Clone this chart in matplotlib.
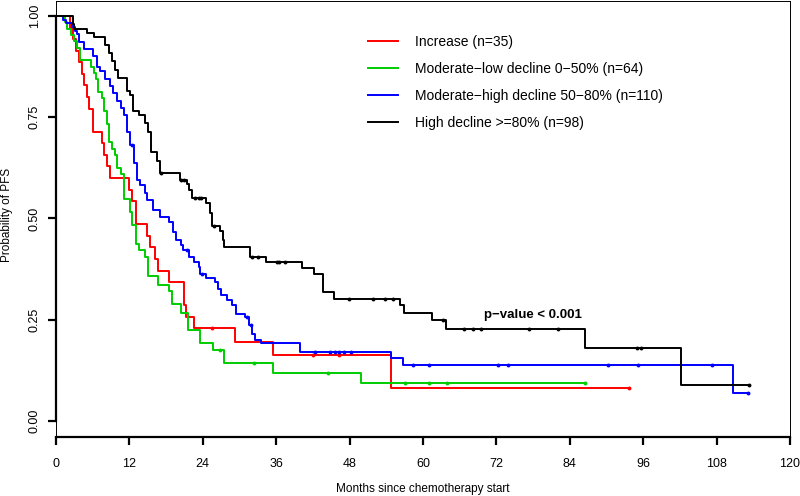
import numpy as np
import matplotlib
matplotlib.use("Agg")
import matplotlib.pyplot as plt

plt.rcParams['font.family'] = ['Liberation Sans', 'DejaVu Sans']

# Kaplan-Meier steps: (time of step, survival after step)
inc_t = [0, 2.3, 2.8, 3.3, 3.8, 4.3, 4.6, 5.0, 5.45, 6.0, 7.5, 7.85, 8.4, 8.9,
         12.0, 12.4, 13.1, 14.9, 15.4, 16.2, 16.6, 18.5, 20.9, 21.3, 22.6,
         29.3, 35.5, 54.8]
inc_s = [1.0, .971, .943, .914, .886, .857, .829, .800, .771, .714, .686, .657, .629, .600,
         .571, .543, .486, .457, .429, .400, .371, .343, .286, .257, .229,
         .196, .163, .082]
inc_c = [25.5, 42.0, 46.3, 93.7]

low_t = [0, 1.5, 1.8, 2.4, 2.9, 3.4, 3.9, 5.8, 6.2, 6.5, 6.9, 7.5, 7.85, 8.3, 8.6,
         9.1, 9.6, 9.9, 10.7, 11.1, 12.1, 12.5, 13.1, 13.6, 14.5, 15.1, 16.7,
         18.4, 18.9, 20.4, 21.5, 23.5, 25.6, 27.4, 35.5, 49.9]
low_s = [1.0, .984, .969, .953, .938, .922, .891, .875, .859, .844, .813, .797, .766, .734, .688,
         .672, .656, .625, .609, .547, .516, .484, .438, .422, .406, .359, .336,
         .320, .289, .266, .225, .193, .176, .142, .119, .095]
low_c = [26.8, 32.4, 44.4, 57.0, 61.0, 63.9, 86.5]

high_t = [0, 1.1, 1.6, 2.6, 3.1, 3.4, 3.8, 4.5, 6.1, 6.65, 7.2, 8.0, 8.8, 9.4, 9.9,
          10.7, 11.1, 11.55, 12.1, 12.75, 13.3, 13.7, 14.5, 14.8, 15.9, 17.0, 18.4,
          19.1, 19.6, 20.4, 20.8, 21.8, 22.5, 23.3, 23.6, 24.5, 26.0, 26.5, 26.9,
          28.0, 28.7, 29.4, 30.9, 31.6, 32.0, 32.5, 33.5, 39.9, 54.7, 56.7, 110.7]
high_s = [1.0, .991, .982, .973, .964, .955, .936, .918, .900, .873, .864, .845, .827, .809, .791,
          .773, .755, .714, .682, .636, .595, .582, .564, .546, .521, .504, .492,
          .467, .447, .434, .422, .406, .393, .381, .362, .352, .344, .327, .311,
          .298, .286, .265, .257, .237, .216, .201, .193, .171, .155, .138, .070]
high_c = [12.4, 21.4, 23.9, 31.2, 31.8, 42.4, 44.8, 45.6, 46.3, 47.1, 48.2,
          58.3, 61.0, 72.3, 73.9, 90.3, 95.2, 107.3, 113.2]

top_t = [0, 2.7, 3.0, 5.0, 6.2, 8.0, 8.6, 9.1, 9.6, 10.2, 11.6, 12.1, 12.6, 13.5,
         14.6, 15.1, 15.6, 16.5, 17.0, 20.2, 21.4, 21.8, 22.3, 24.6, 25.1, 25.5,
         26.8, 27.3, 27.5, 31.7, 34.3, 40.2, 42.1, 43.7, 45.4, 56.2, 56.9, 61.4,
         63.8, 86.5, 102.1]
top_s = [1.0, .980, .969, .959, .949, .929, .908, .888, .867, .847, .816, .806, .765, .755,
         .735, .714, .663, .643, .612, .595, .585, .571, .551, .538, .514, .481,
         .468, .447, .430, .405, .393, .379, .364, .319, .302, .286, .266, .249,
         .227, .181, .090]
top_c = [17.2, 20.4, 21.0, 22.8, 23.4, 23.7, 25.8, 32.0, 33.1, 36.2, 36.5, 37.4,
         47.9, 51.8, 53.8, 55.1, 63.3, 66.7, 68.2, 69.5, 77.3, 82.0, 95.0, 95.6, 113.3]

groups = [
    ("Increase (n=35)", inc_t, inc_s, inc_c, "#ff0000"),
    ("Moderate\u2212low decline 0\u221250% (n=64)", low_t, low_s, low_c, "#00cd00"),
    ("Moderate\u2212high decline 50\u221280% (n=110)", high_t, high_s, high_c, "#0000ff"),
    ("High decline >=80% (n=98)", top_t, top_s, top_c, "#000000"),
]
xticks = [0, 12, 24, 36, 48, 60, 72, 84, 96, 108, 120]
yticks = [0, 0.25, 0.5, 0.75, 1.0]


def step_value(t, s, x):
    i = np.searchsorted(t, x, side="right") - 1
    return np.asarray(s)[i]


def main():
    fig = plt.figure(figsize=(8, 4.96), dpi=100)
    ax = fig.add_axes([56 / 800, 59 / 496, 734 / 800, 436 / 496])

    for label, t, s, c, col in groups:
        end = max(c)
        xs = list(t) + [end]
        ys = list(s) + [s[-1]]
        ax.step(xs, ys, where="post", color=col, lw=1.4, label=label)
        ax.plot(c, step_value(t, s, np.array(c)), "o", color=col, ms=2.8, mew=0)

    ax.set_xlim(0, 120)
    ax.set_ylim(-0.0395, 1.037)
    ax.set_xticks(xticks)
    ax.set_xticklabels([str(v) for v in xticks])
    ax.set_yticks(yticks)
    ax.set_yticklabels(["0.00", "0.25", "0.50", "0.75", "1.00"], rotation=90, va="center")

    for side in ["top", "right"]:
        ax.spines[side].set_linewidth(0.7)
    ax.spines["left"].set_linewidth(1.6)
    ax.spines["left"].set_bounds(0, 1)
    ax.spines["bottom"].set_linewidth(1.6)
    ax.plot([0, 0], [0, 1], transform=ax.transAxes, color="k", lw=0.7, clip_on=False)
    ax.tick_params(axis="both", direction="out", length=6, width=1.6, labelsize=9,
                   colors="k")
    ax.tick_params(axis="x", pad=9)
    ax.tick_params(axis="y", pad=5)

    ax.set_xlabel("Months since chemotherapy start", fontsize=8.5)
    ax.set_ylabel("Probability of PFS", fontsize=8.5)
    ax.xaxis.set_label_coords(0.5, -0.105)
    ax.yaxis.set_label_coords(-0.058, 0.509)

    ax.text(70, 0.262, "p\u2212value < 0.001", fontsize=9.5, fontweight="bold",
            va="center", ha="left")

    ax.legend(loc="upper left", bbox_to_anchor=(362 / 800, 1 - 29 / 496),
              bbox_transform=fig.transFigure, frameon=False, fontsize=10,
              handlelength=2.2, handletextpad=1.2, labelspacing=0.95,
              borderaxespad=0)

    fig.savefig("out.png", dpi=100)


if __name__ == "__main__":
    main()
